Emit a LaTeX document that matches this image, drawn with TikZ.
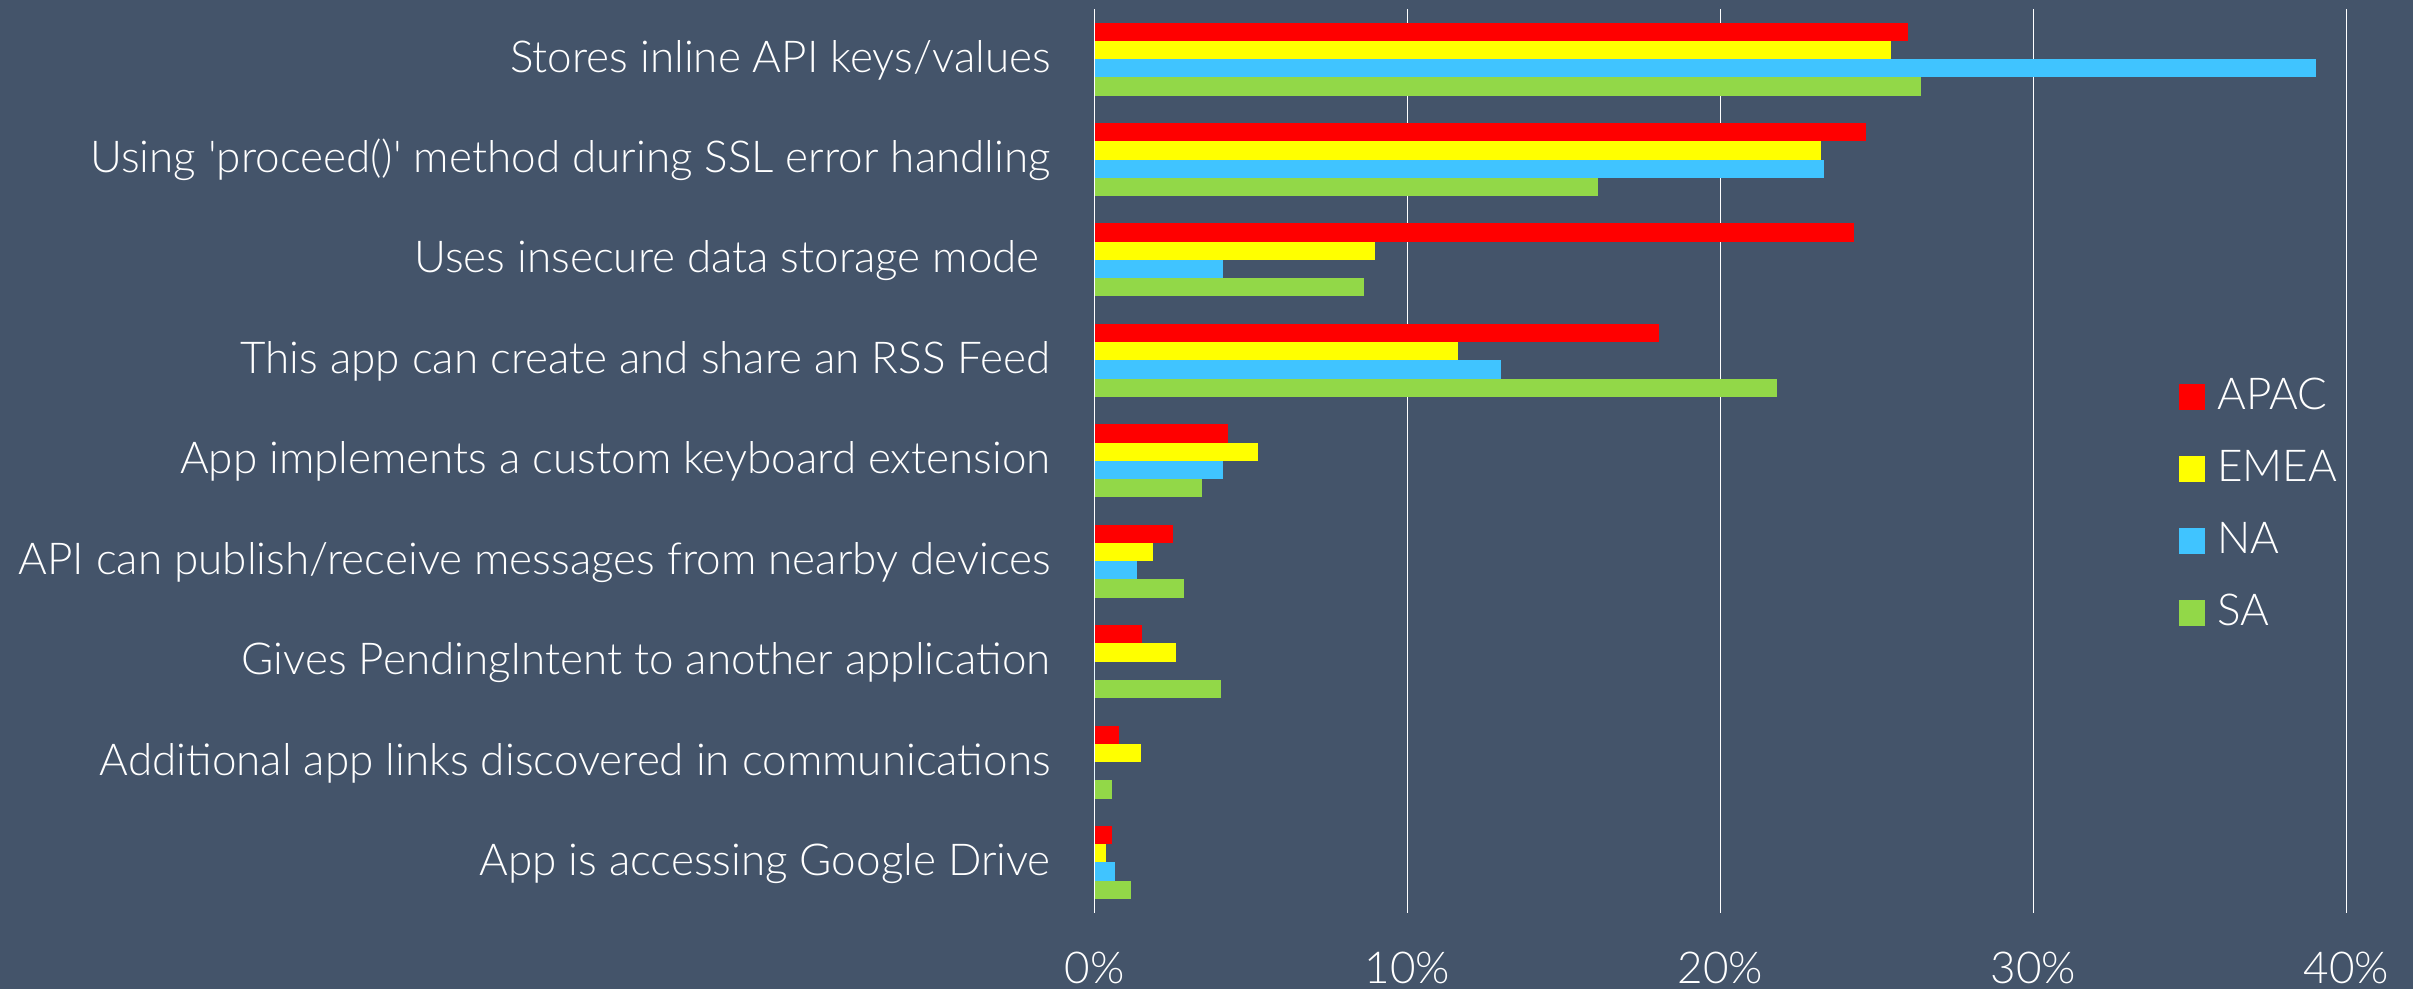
\documentclass[tikz,border=0pt]{standalone}
\usepackage{fontspec}
\setmainfont{Lato}[UprightFont={* Light}]
\definecolor{bg}{RGB}{68,84,106}
\definecolor{cApac}{RGB}{255,0,0}
\definecolor{cEmea}{RGB}{255,255,0}
\definecolor{cNa}{RGB}{64,196,255}
\definecolor{cSa}{RGB}{146,216,72}
\begin{document}
\begin{tikzpicture}[x=0.5pt,y=-0.5pt,
  lbl/.style={text=white,font=\fontsize{22}{26}\selectfont,inner sep=0pt},
  gridline/.style={white,line width=0.6pt},
  sq/.style={fill=#1,draw=none,minimum size=13pt,inner sep=0pt}]
\fill[bg] (0,0) rectangle (2413,989);
\useasboundingbox (0,0) rectangle (2413,989);
% gridlines and tick labels
\foreach \p/\n in {0/g0,10/g1,20/g2,30/g3,40/g4}{
  \coordinate (\n top) at ({1094.5+31.3*\p},9);
  \coordinate (\n bot) at ({1094.5+31.3*\p},913);
  \draw[gridline] (\n top) -- (\n bot);
  \node[lbl,anchor=base] (\n lab) at ({1094.5+31.3*\p},983) {\p\%};
}
% bars
\foreach \va/\vb/\vc/\vd [count=\i from 0] in {26.0/25.44/39.03/26.42, 24.65/23.2/23.3/16.09, 24.26/8.97/4.1/8.62, 18.03/11.61/13.0/21.8, 4.27/5.22/4.11/3.43, 2.5/1.86/1.36/2.86, 1.53/2.61/0/4.03, 0.77/1.49/0/0.57, 0.57/0.36/0.67/1.16}{
  \pgfmathsetmacro\yt{9+100.4*\i+13.7}
  \foreach \v/\c [count=\j from 0] in {\va/cApac,\vb/cEmea,\vc/cNa,\vd/cSa}{
    \fill[\c] (1094.5,{\yt+18.25*\j}) rectangle ({1094.5+31.3*\v},{\yt+18.25*(\j+1)});
  }
}
% category labels
\node[lbl,anchor=base east] (c1) at (1051,{9+100.4*0.5+13}) {Stores inline API keys/values};
\node[lbl,anchor=base east] (c2) at (1051,{9+100.4*1.5+13}) {Using \textquotesingle proceed()\textquotesingle\ method during SSL error handling};
\node[lbl,anchor=base east] (c3) at (1051,{9+100.4*2.5+13}) {Uses insecure data storage mode\kern0.25em};
\node[lbl,anchor=base east] (c4) at (1051,{9+100.4*3.5+13}) {This app can create and share an RSS Feed};
\node[lbl,anchor=base east] (c5) at (1051,{9+100.4*4.5+13}) {App implements a custom keyboard extension};
\node[lbl,anchor=base east] (c6) at (1051,{9+100.4*5.5+13}) {API can publish/receive messages from nearby devices};
\node[lbl,anchor=base east] (c7) at (1051,{9+100.4*6.5+13}) {Gives PendingIntent to another application};
\node[lbl,anchor=base east] (c8) at (1051,{9+100.4*7.5+13}) {Additional app links discovered in communications};
\node[lbl,anchor=base east] (c9) at (1051,{9+100.4*8.5+13}) {App is accessing Google Drive};
% legend
\node[sq=cApac] (kA) at (2192,396.7) {};
\node[sq=cEmea] (kE) at (2192,469) {};
\node[sq=cNa] (kN) at (2192,541) {};
\node[sq=cSa] (kS) at (2192,613) {};
\node[lbl,anchor=base west] (tA) at (2217,409.5) {APAC};
\node[lbl,anchor=base west] (tE) at (2217,481.8) {EMEA};
\node[lbl,anchor=base west] (tN) at (2217,553.8) {NA};
\node[lbl,anchor=base west] (tS) at (2217,625.8) {SA};
\end{tikzpicture}
\end{document}
